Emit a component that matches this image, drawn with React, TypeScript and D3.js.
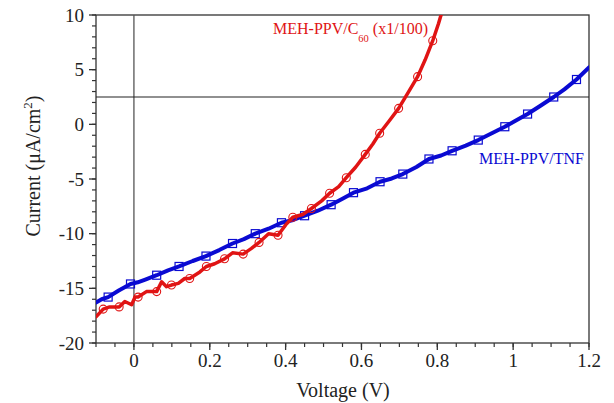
import React from "react";
import * as d3 from "d3";

// MEH-PPV/TNF (blue) line points [V, I]
const tnfLine: [number, number][] = [
  [-0.1, -16.3], [-0.085, -16.0], [-0.068, -15.8], [-0.04, -15.2], [-0.009, -14.6],
  [0.01, -14.45], [0.03, -14.2], [0.06, -13.8], [0.09, -13.35], [0.119, -13.0],
  [0.155, -12.5], [0.19, -12.05], [0.225, -11.5], [0.26, -10.9], [0.29, -10.5],
  [0.32, -10.0], [0.355, -9.55], [0.389, -9.0], [0.42, -8.75], [0.45, -8.36],
  [0.485, -7.9], [0.52, -7.35], [0.55, -6.8], [0.579, -6.25], [0.615, -5.85],
  [0.649, -5.25], [0.68, -4.95], [0.709, -4.55], [0.745, -3.9], [0.778, -3.17],
  [0.81, -2.85], [0.839, -2.42], [0.875, -1.95], [0.908, -1.44], [0.945, -0.8],
  [0.978, -0.22], [1.005, 0.3], [1.038, 0.94], [1.07, 1.65], [1.107, 2.5],
  [1.135, 3.2], [1.167, 4.1], [1.2, 5.2],
];
// MEH-PPV/TNF markers [V, I]
const tnfMarkers: [number, number][] = [
  [-0.068, -15.8], [-0.009, -14.6], [0.06, -13.8], [0.119, -13.0], [0.19, -12.05],
  [0.26, -10.9], [0.32, -10.0], [0.389, -9.0], [0.45, -8.36], [0.52, -7.35],
  [0.579, -6.25], [0.649, -5.25], [0.709, -4.55], [0.778, -3.17], [0.839, -2.42],
  [0.908, -1.44], [0.978, -0.22], [1.038, 0.94], [1.107, 2.5], [1.167, 4.1],
];
// MEH-PPV/C60 (x1/100) (red) line points [V, I]
const c60Line: [number, number][] = [
  [-0.1, -17.6], [-0.081, -16.9], [-0.064, -16.7], [-0.039, -16.7], [-0.024, -16.2],
  [-0.006, -16.5], [0.003, -15.8], [0.011, -15.8], [0.033, -15.3], [0.06, -15.3],
  [0.073, -14.4], [0.086, -14.85], [0.099, -14.7], [0.117, -14.55], [0.134, -14.1],
  [0.147, -14.1], [0.174, -13.5], [0.191, -13.0], [0.213, -12.75], [0.239, -12.3],
  [0.26, -11.75], [0.288, -11.87], [0.31, -11.35], [0.33, -10.8], [0.355, -10.0],
  [0.38, -10.15], [0.4, -9.2], [0.419, -8.5], [0.445, -8.25], [0.468, -7.7],
  [0.495, -7.0], [0.516, -6.3], [0.54, -5.7], [0.56, -4.88], [0.585, -3.9],
  [0.61, -2.75], [0.63, -1.8], [0.648, -0.82], [0.673, 0.3], [0.698, 1.46],
  [0.723, 2.9], [0.748, 4.36], [0.768, 5.9], [0.788, 7.65], [0.803, 9.2],
  [0.815, 10.6],
];
// MEH-PPV/C60 markers [V, I]
const c60Markers: [number, number][] = [
  [-0.081, -16.9], [-0.039, -16.7], [0.011, -15.8], [0.06, -15.3], [0.099, -14.7],
  [0.147, -14.1], [0.191, -13.0], [0.239, -12.3], [0.288, -11.87], [0.33, -10.8],
  [0.38, -10.15], [0.419, -8.5], [0.468, -7.7], [0.516, -6.3], [0.56, -4.88],
  [0.61, -2.75], [0.648, -0.82], [0.698, 1.46], [0.748, 4.36], [0.788, 7.65],
];

const xMajorTicks = [0, 0.2, 0.4, 0.6, 0.8, 1, 1.2];
const xTickLabels = ["0", "0.2", "0.4", "0.6", "0.8", "1", "1.2"];
const yMajorTicks = [-20, -15, -10, -5, 0, 5, 10];
const yTickLabels = ["-20", "-15", "-10", "-5", "0", "5", "10"];
const refLineY = 2.5;

const W = 614, H = 403;
const L = 96, R = 589, T = 15, B = 343;
const FONT = "'Liberation Serif', 'Times New Roman', serif";
const BLUE = "#0a0ad2";
const RED = "#e01414";
const AX = "#333";

export default function App() {
  const x = d3.scaleLinear().domain([-0.1, 1.2]).range([L, R]);
  const y = d3.scaleLinear().domain([-20, 10]).range([B, T]);
  const lineGen = d3.line<[number, number]>().x(d => x(d[0])).y(d => y(d[1]));

  const xMinor = d3.range(-0.1, 1.2001, 0.05).map(v => Math.round(v * 100) / 100);
  const yMinor = d3.range(-20, 10.001, 1);

  return (
    <svg width={W} height={H} style={{ position: "absolute", left: 0, top: 0, background: "#fff" }}>
      <defs>
        <clipPath id="plot">
          <rect x={L} y={T} width={R - L} height={B - T} />
        </clipPath>
      </defs>
      {/* frame */}
      <rect x={L} y={T} width={R - L} height={B - T} fill="none" stroke={AX} strokeWidth={1.3} />
      {/* reference lines */}
      <line x1={x(0)} x2={x(0)} y1={T} y2={B} stroke="#555" strokeWidth={1.3} />
      <line x1={L} x2={R} y1={y(refLineY)} y2={y(refLineY)} stroke="#222" strokeWidth={1.2} />

      {/* x ticks */}
      {xMinor.map((v, i) => (
        <line key={"xm" + i} x1={x(v)} x2={x(v)} y1={B} y2={B + 4} stroke={AX} strokeWidth={1.2} />
      ))}
      {xMajorTicks.map((v, i) => (
        <g key={"xM" + i}>
          <line x1={x(v)} x2={x(v)} y1={B} y2={B + 7} stroke={AX} strokeWidth={1.3} />
          <text x={x(v)} y={367} textAnchor="middle" fontFamily={FONT} fontSize={19} fill="#222">
            {xTickLabels[i]}
          </text>
        </g>
      ))}
      {/* y ticks */}
      {yMinor.map((v, i) => (
        <line key={"ym" + i} x1={L - 4} x2={L} y1={y(v)} y2={y(v)} stroke={AX} strokeWidth={1.2} />
      ))}
      {yMajorTicks.map((v, i) => (
        <g key={"yM" + i}>
          <line x1={L - 7} x2={L} y1={y(v)} y2={y(v)} stroke={AX} strokeWidth={1.3} />
          <text x={84} y={y(v) + 6.5} textAnchor="end" fontFamily={FONT} fontSize={19} fill="#222">
            {yTickLabels[i]}
          </text>
        </g>
      ))}

      {/* axis titles */}
      <text x={343} y={397} textAnchor="middle" fontFamily={FONT} fontSize={20} fill="#222">
        Voltage (V)
      </text>
      <text transform={`translate(40, ${166}) rotate(-90)`} textAnchor="middle" fontFamily={FONT} fontSize={20} fill="#222">
        Current (μA/cm<tspan dy={-8} fontSize={13}>2</tspan><tspan dy={8}>)</tspan>
      </text>

      {/* series */}
      <g clipPath="url(#plot)">
        <path d={lineGen(tnfLine) || ""} fill="none" stroke={BLUE} strokeWidth={4} strokeLinejoin="round" strokeLinecap="round" />
        {tnfMarkers.map((d, i) => (
          <rect key={"tm" + i} x={x(d[0]) - 4} y={y(d[1]) - 4} width={8} height={8} fill="none" stroke={BLUE} strokeWidth={1.2} />
        ))}
        <path d={lineGen(c60Line) || ""} fill="none" stroke={RED} strokeWidth={3.5} strokeLinejoin="round" strokeLinecap="round" />
        {c60Markers.map((d, i) => (
          <circle key={"cm" + i} cx={x(d[0])} cy={y(d[1])} r={4} fill="none" stroke={RED} strokeWidth={1.1} />
        ))}
      </g>

      {/* series labels */}
      <text x={273} y={34} fontFamily={FONT} fontSize={16} fill={RED}>
        MEH-PPV/C<tspan dy={8} fontSize={10.5}>60</tspan><tspan dy={-8}> (x1/100)</tspan>
      </text>
      <text x={479} y={164} fontFamily={FONT} fontSize={16} fill={BLUE}>
        MEH-PPV/TNF
      </text>
    </svg>
  );
}
